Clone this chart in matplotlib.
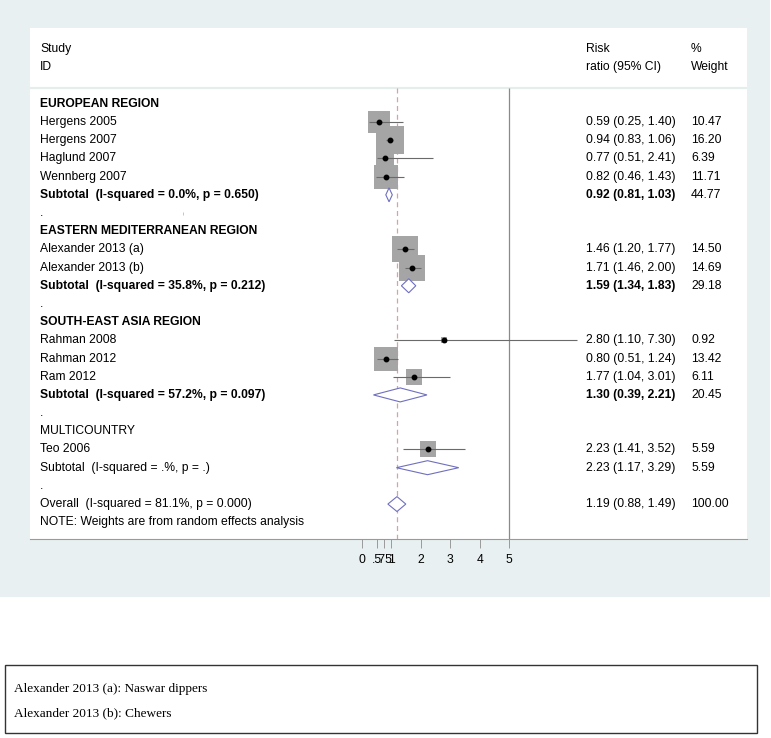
import matplotlib.pyplot as plt
from matplotlib.patches import Rectangle

plt.rcParams["font.family"] = ["Liberation Sans", "DejaVu Sans"]

region_names = [
    "EUROPEAN REGION",
    "EASTERN MEDITERRANEAN REGION",
    "SOUTH-EAST ASIA REGION",
    "MULTICOUNTRY",
]
region_bold = [True, True, True, False]

study_names = [
    ["Hergens 2005", "Hergens 2007", "Haglund 2007", "Wennberg 2007"],
    ["Alexander 2013 (a)", "Alexander 2013 (b)"],
    ["Rahman 2008", "Rahman 2012", "Ram 2012"],
    ["Teo 2006"],
]
study_rr = [[0.59, 0.94, 0.77, 0.82], [1.46, 1.71], [2.80, 0.80, 1.77], [2.23]]
study_lo = [[0.25, 0.83, 0.51, 0.46], [1.20, 1.46], [1.10, 0.51, 1.04], [1.41]]
study_hi = [[1.40, 1.06, 2.41, 1.43], [1.77, 2.00], [7.30, 1.24, 3.01], [3.52]]
study_wt = [[10.47, 16.20, 6.39, 11.71], [14.50, 14.69], [0.92, 13.42, 6.11], [5.59]]

sub_labels = [
    "Subtotal  (I-squared = 0.0%, p = 0.650)",
    "Subtotal  (I-squared = 35.8%, p = 0.212)",
    "Subtotal  (I-squared = 57.2%, p = 0.097)",
    "Subtotal  (I-squared = .%, p = .)",
]
sub_rr = [0.92, 1.59, 1.30, 2.23]
sub_lo = [0.81, 1.34, 0.39, 1.17]
sub_hi = [1.03, 1.83, 2.21, 3.29]
sub_wt = [44.77, 29.18, 20.45, 5.59]

overall_label = "Overall  (I-squared = 81.1%, p = 0.000)"
overall_rr, overall_lo, overall_hi, overall_wt = 1.19, 0.88, 1.49, 100.00

tick_vals = [0, 0.5, 0.75, 1, 2, 3, 4, 5]
tick_labels = ["0", ".5", ".75", "1", "2", "3", "4", "5"]
null_value = 5

footnotes = ["Alexander 2013 (a): Naswar dippers", "Alexander 2013 (b): Chewers"]

W, H = 771, 738
FS = 8.7
box_col = "#a5a5a5"
ci_col = "#6a6a6a"
dia_col = "#6f6fbf"


def px2x(px):
    # data x <-> pixel x: 0 sits at 362 px, 29.4 px per unit
    return (px - 362) / 29.4


def ci_text(r, lo, hi):
    return f"{r:.2f} ({lo:.2f}, {hi:.2f})"


fig = plt.figure(figsize=(W / 100, H / 100), dpi=100)
fig.patch.set_facecolor("white")
fig.patches.append(Rectangle((0, 1 - 597 / H), 770 / W, 597 / H,
                             transform=fig.transFigure, facecolor="#e8f0f1",
                             edgecolor="none", zorder=-10))

ax = fig.add_axes([30 / W, (H - 539) / H, (747 - 30) / W, (539 - 28) / H])
ax.set_facecolor("white")
ax.set_xlim(px2x(30), px2x(747))
ax.set_ylim(23.92, -4.17)
for s in ["top", "left", "right"]:
    ax.spines[s].set_visible(False)
ax.spines["bottom"].set_color("#9a9a9a")
ax.spines["bottom"].set_linewidth(0.8)
ax.set_yticks([])
ax.set_xticks(tick_vals, tick_labels)
ax.tick_params(axis="x", length=6.5, width=0.7, color="#9a9a9a", pad=4,
               labelsize=FS)

x_lab, x_ci, x_wt = px2x(40), px2x(586), px2x(691)

# header
ax.text(x_lab, -3.0, "Study", fontsize=FS, va="center")
ax.text(x_lab, -2.05, "ID", fontsize=FS, va="center")
ax.text(x_ci, -3.0, "Risk", fontsize=FS, va="center")
ax.text(x_ci, -2.05, "ratio (95% CI)", fontsize=FS, va="center")
ax.text(x_wt, -3.0, "%", fontsize=FS, va="center")
ax.text(x_wt, -2.05, "Weight", fontsize=FS, va="center")
ax.axhline(-0.87, color="#e6eded", lw=1.6, zorder=1)

y_bot = ax.get_ylim()[0]
ax.vlines(null_value, -0.87, y_bot, color="#8a8a8a", lw=0.9, zorder=1)
ax.vlines(overall_rr, -0.87, y_bot, color="#dca0a0", lw=0.9,
          linestyles=(0, (4, 3)), zorder=1)


def diamond(y, r, lo, hi, h):
    ax.fill([lo, r, hi, r, lo], [y, y - h, y, y + h, y], facecolor="white",
            edgecolor=dia_col, lw=0.8, zorder=3)


row = 0
for g in range(len(region_names)):
    bw = "bold" if region_bold[g] else "normal"
    ax.text(x_lab, row, region_names[g], fontsize=FS, va="center", fontweight=bw)
    row += 1
    for name, r, lo, hi, w in zip(study_names[g], study_rr[g], study_lo[g],
                                  study_hi[g], study_wt[g]):
        ax.scatter([r], [row], s=24 * w, marker="s", color=box_col,
                   linewidths=0, zorder=2)
        ax.hlines(row, lo, hi, color=ci_col, lw=0.8, zorder=3)
        ax.plot([r], [row], "o", color="black", ms=3.2, zorder=4)
        ax.text(x_lab, row, name, fontsize=FS, va="center")
        ax.text(x_ci, row, ci_text(r, lo, hi), fontsize=FS, va="center")
        ax.text(x_wt, row, f"{w:.2f}", fontsize=FS, va="center")
        row += 1
    diamond(row, sub_rr[g], sub_lo[g], sub_hi[g], 0.385)
    ax.text(x_lab, row, sub_labels[g], fontsize=FS, va="center", fontweight=bw)
    ax.text(x_ci, row, ci_text(sub_rr[g], sub_lo[g], sub_hi[g]), fontsize=FS,
            va="center", fontweight=bw)
    ax.text(x_wt, row, f"{sub_wt[g]:.2f}", fontsize=FS, va="center")
    row += 1
    ax.text(x_lab, row, ".", fontsize=FS, va="center")
    if g == 0:
        ax.vlines(px2x(183), row - 0.05, row + 0.12, color="#bbbbbb", lw=0.6)
    row += 1

diamond(row, overall_rr, overall_lo, overall_hi, 0.41)
ax.text(x_lab, row, overall_label, fontsize=FS, va="center")
ax.text(x_ci, row, ci_text(overall_rr, overall_lo, overall_hi), fontsize=FS,
        va="center")
ax.text(x_wt, row, f"{overall_wt:.2f}", fontsize=FS, va="center")
row += 1
ax.text(x_lab, row, "NOTE: Weights are from random effects analysis",
        fontsize=FS, va="center")

# footnote box
fig.patches.append(Rectangle((5 / W, (H - 733) / H), 752 / W, 68 / H,
                             transform=fig.transFigure, facecolor="none",
                             edgecolor="#333333", lw=1.0))
for k, line in enumerate(footnotes):
    fig.text(14 / W, 1 - (689 + 24 * k) / H, line, fontsize=9.5,
             family=["Liberation Serif", "DejaVu Serif"], va="center")

fig.savefig("out.png", dpi=100)
